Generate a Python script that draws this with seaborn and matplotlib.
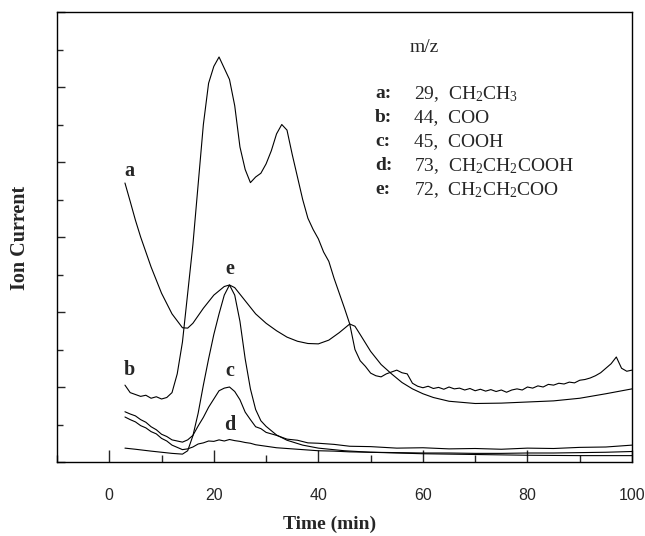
import matplotlib
matplotlib.use("Agg")
import matplotlib.pyplot as plt
import seaborn as sns
import pandas as pd
from matplotlib.ticker import MultipleLocator

# ---- data ----
x_a = [3, 4, 5, 6, 8, 10, 12, 14, 15, 16, 18, 20, 22, 23, 24, 26, 28, 30, 32, 34, 36, 38, 40,
       42, 44, 46, 47, 48, 50, 52, 54, 56, 58, 60, 62, 65, 70, 75, 80, 85, 90, 95, 100]
y_a = [7.44, 6.95, 6.45, 6.0, 5.2, 4.5, 3.95, 3.58, 3.57, 3.7, 4.1, 4.45, 4.68, 4.72, 4.65, 4.3,
       3.95, 3.7, 3.5, 3.33, 3.22, 3.16, 3.15, 3.25, 3.45, 3.68, 3.62, 3.4, 2.95, 2.6, 2.35, 2.12,
       1.95, 1.82, 1.72, 1.62, 1.56, 1.57, 1.6, 1.63, 1.7, 1.82, 1.95]

x_b = list(range(3, 101))
y_b = [2.05, 1.85, 1.8, 1.75, 1.78, 1.7, 1.74, 1.68, 1.72, 1.85,
       2.35, 3.2, 4.5, 5.8, 7.4, 9.0, 10.1, 10.55, 10.8, 10.5,
       10.2, 9.5, 8.4, 7.8, 7.45, 7.6, 7.7, 7.95, 8.3, 8.75,
       9.0, 8.85, 8.2, 7.6, 7.0, 6.5, 6.2, 5.95, 5.6, 5.35,
       4.9, 4.5, 4.1, 3.68, 3.0, 2.7, 2.55, 2.37, 2.3, 2.27,
       2.35, 2.4, 2.45, 2.38, 2.35, 2.1, 2.02, 1.98, 2.02, 1.96,
       1.99, 1.94, 2.0, 1.95, 1.97, 1.92, 1.96, 1.9, 1.94, 1.89,
       1.93, 1.88, 1.92, 1.86, 1.92, 1.95, 1.92, 2.0, 1.97, 2.03,
       2.0, 2.07, 2.05, 2.1, 2.08, 2.13, 2.11, 2.18, 2.2, 2.24,
       2.3, 2.38, 2.5, 2.62, 2.8, 2.5, 2.42, 2.45]

x_c = [3, 4, 5, 6, 7, 8, 9, 10, 11, 12, 13, 14, 15, 16, 17, 18, 19, 20, 21, 22, 23, 24, 25, 26,
       27, 28, 29, 30, 32, 34, 36, 38, 40, 43, 46, 50, 55, 60, 65, 70, 75, 80, 85, 90, 95, 100]
y_c = [1.34, 1.28, 1.23, 1.13, 1.06, 0.94, 0.86, 0.74, 0.68, 0.59, 0.56, 0.53, 0.59, 0.71, 0.96,
       1.19, 1.46, 1.68, 1.9, 1.97, 2.0, 1.88, 1.66, 1.33, 1.13, 0.94, 0.89, 0.79, 0.71, 0.61, 0.58,
       0.51, 0.5, 0.47, 0.42, 0.41, 0.37, 0.38, 0.35, 0.36, 0.34, 0.37, 0.36, 0.39, 0.4, 0.45]

x_d = [3, 4, 5, 6, 7, 8, 9, 10, 11, 12, 13, 14, 15, 16, 17, 18, 19, 20, 21, 22, 23, 24, 25, 26,
       27, 28, 30, 32, 34, 36, 38, 40, 43, 46, 50, 55, 60, 65, 70, 75, 80, 85, 90, 95, 100]
y_d = [1.2, 1.13, 1.07, 0.97, 0.91, 0.81, 0.75, 0.63, 0.56, 0.45, 0.39, 0.33, 0.35, 0.4, 0.48,
       0.51, 0.56, 0.55, 0.59, 0.56, 0.6, 0.57, 0.55, 0.52, 0.5, 0.46, 0.42, 0.38, 0.36, 0.34,
       0.32, 0.3, 0.29, 0.27, 0.26, 0.25, 0.24, 0.24, 0.23, 0.23, 0.24, 0.24, 0.25, 0.26, 0.28]

x_e = [3, 5, 8, 10, 12, 14, 15, 16, 17, 18, 19, 20, 21, 22, 23, 24, 25, 26, 27, 28, 29, 30, 32,
       34, 37, 40, 45, 50, 60, 70, 80, 90, 100]
y_e = [0.37, 0.34, 0.29, 0.26, 0.23, 0.21, 0.3, 0.7, 1.3, 2.05, 2.75, 3.4, 3.95, 4.45, 4.72,
       4.45, 3.75, 2.75, 1.95, 1.4, 1.1, 0.95, 0.72, 0.58, 0.45, 0.37, 0.3, 0.26, 0.22, 0.2,
       0.18, 0.17, 0.17]

curve_labels = ["a", "b", "c", "d", "e"]
label_x = [3.8, 3.8, 23.0, 23.0, 23.0]
label_y = [7.75, 2.45, 2.43, 0.99, 5.15]

legend_title = "m/z"
legend_keys = ["a:", "b:", "c:", "d:", "e:"]
legend_vals = ["29,  CH$\\mathregular{_2}$CH$\\mathregular{_3}$",
               "44,  COO",
               "45,  COOH",
               "73,  CH$\\mathregular{_2}$CH$\\mathregular{_2}$COOH",
               "72,  CH$\\mathregular{_2}$CH$\\mathregular{_2}$COO"]

x_ticks = [0, 20, 40, 60, 80, 100]

# ---- style ----
sns.set_style("ticks")
plt.rcParams["font.family"] = ["Liberation Serif", "DejaVu Serif"]
plt.rcParams["mathtext.fontset"] = "custom"
plt.rcParams["mathtext.rm"] = "Liberation Serif"

fig = plt.figure(figsize=(6.45, 5.36), dpi=100)
ax = fig.add_axes([57 / 645, 1 - 462 / 536, 575 / 645, 450 / 536])

series = [(x_a, y_a), (x_b, y_b), (x_c, y_c), (x_d, y_d), (x_e, y_e)]
for (xs, ys) in series:
    df = pd.DataFrame({"t": xs, "v": ys})
    sns.lineplot(data=df, x="t", y="v", ax=ax, color="black", linewidth=0.8,
                 estimator=None, sort=False)

ax.set_xlim(-10, 100)
ax.set_ylim(0, 12)
ax.set_xlabel("")
ax.set_ylabel("")
ax.set_xticks(x_ticks)
ax.xaxis.set_minor_locator(MultipleLocator(10))
ax.yaxis.set_major_locator(MultipleLocator(2))
ax.yaxis.set_minor_locator(MultipleLocator(1))
ax.set_yticklabels([])
ax.tick_params(axis="x", which="major", direction="in", length=8.5, width=1.0, pad=19,
               labelsize=11.5, labelfontfamily="Liberation Sans")
ax.tick_params(axis="x", which="minor", direction="in", length=5, width=1.0)
ax.tick_params(axis="y", which="major", direction="in", length=6, width=1.0, left=True)
ax.tick_params(axis="y", which="minor", direction="in", length=4, width=1.0)
for s in ax.spines.values():
    s.set_linewidth(1.0)
    s.set_color("black")

for lab, lx, ly in zip(curve_labels, label_x, label_y):
    ax.text(lx, ly, lab, ha="center", va="center", fontsize=14.5, fontweight="bold")

ax.text((424 - 57) / 575, (462 - 47) / 450, legend_title, transform=ax.transAxes,
        ha="center", va="center", fontsize=14)
row_y = [94, 118, 142, 166, 190]
for k, v, py in zip(legend_keys, legend_vals, row_y):
    fy = (462 - py) / 450
    ax.text((375 - 57) / 575, fy, k, transform=ax.transAxes, ha="left", va="center",
            fontsize=14, fontweight="bold")
    ax.text((414 - 57) / 575, fy, v, transform=ax.transAxes, ha="left", va="center",
            fontsize=14)

fig.text(330 / 645, 1 - 524 / 536, "Time (min)", ha="center", va="center",
         fontsize=14, fontweight="bold")
fig.text(20 / 645, 1 - 238 / 536, "Ion Current", ha="center", va="center",
         fontsize=14.5, fontweight="bold", rotation=90)

fig.savefig("out.png", dpi=100)
